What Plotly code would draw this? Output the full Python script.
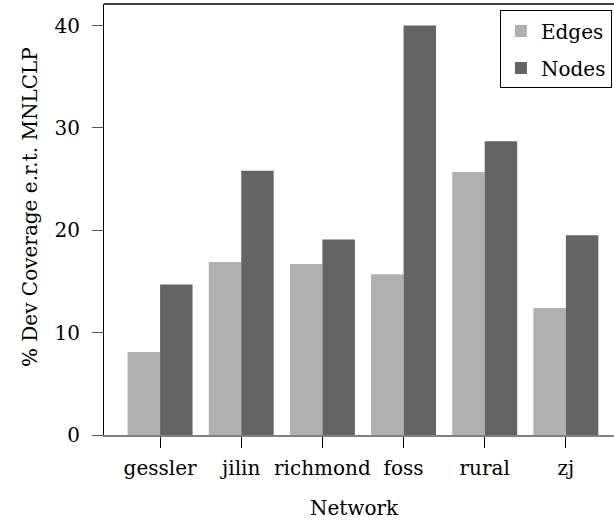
import plotly.graph_objects as go

networks = ["gessler", "jilin", "richmond", "foss", "rural", "zj"]
edges = [8.1, 16.9, 16.7, 15.7, 25.7, 12.4]
nodes = [14.7, 25.8, 19.1, 40.0, 28.7, 19.5]
y_ticks = [0, 10, 20, 30, 40]

FONT = "DejaVu Serif"

fig = go.Figure()
fig.add_trace(go.Bar(x=networks, y=edges, name="Edges", legendgroup="e",
                     marker=dict(color="#b0b0b0", line=dict(width=0))))
fig.add_trace(go.Bar(x=networks, y=nodes, name="Nodes", legendgroup="n",
                     marker=dict(color="#646464", line=dict(width=0))))

fig.update_layout(
    width=614, height=521,
    margin=dict(l=104, r=0, t=4, b=86),
    paper_bgcolor="white", plot_bgcolor="white",
    barmode="group", bargap=0.2, bargroupgap=0,
    font=dict(family=FONT, size=20, color="black"),
    showlegend=True,
    legend=dict(x=0.996, y=0.985, xanchor="right", yanchor="top",
                bordercolor="black", borderwidth=1, bgcolor="white",
                tracegroupgap=8, itemwidth=30,
                font=dict(family=FONT, size=20)),
)
fig.update_xaxes(
    type="category", range=[-0.691, 5.593],
    showline=True, linecolor="#808080", linewidth=1.5,
    ticks="outside", ticklen=11, tickcolor="black", tickwidth=1,
    ticklabelstandoff=3,
    showgrid=False, zeroline=False,
    tickfont=dict(family=FONT, size=20),
)
fig.update_yaxes(
    range=[0, 42.1], tickvals=y_ticks,
    showline=True, linecolor="black", linewidth=1.2,
    ticks="outside", ticklen=11, tickcolor="#555555", tickwidth=1,
    ticklabelstandoff=8,
    showgrid=False, zeroline=False,
    tickfont=dict(family=FONT, size=20),
)
# top frame line
fig.add_shape(type="line", xref="paper", yref="paper", x0=0, x1=1, y0=1, y1=1,
              line=dict(color="black", width=1.5))
# axis titles
fig.add_annotation(text="% Dev Coverage e.r.t. MNLCLP", xref="paper", yref="paper",
                   x=-0.145, y=0.529, xanchor="center", yanchor="middle",
                   textangle=-90, showarrow=False, font=dict(family=FONT, size=20))
fig.add_annotation(text="Network", xref="paper", yref="paper",
                   x=0.492, y=-0.169, xanchor="center", yanchor="middle",
                   showarrow=False, font=dict(family=FONT, size=20))

fig.write_html("out.html", config={"displayModeBar": False},
               post_script="document.body.style.margin='0';document.body.style.overflow='hidden';")
